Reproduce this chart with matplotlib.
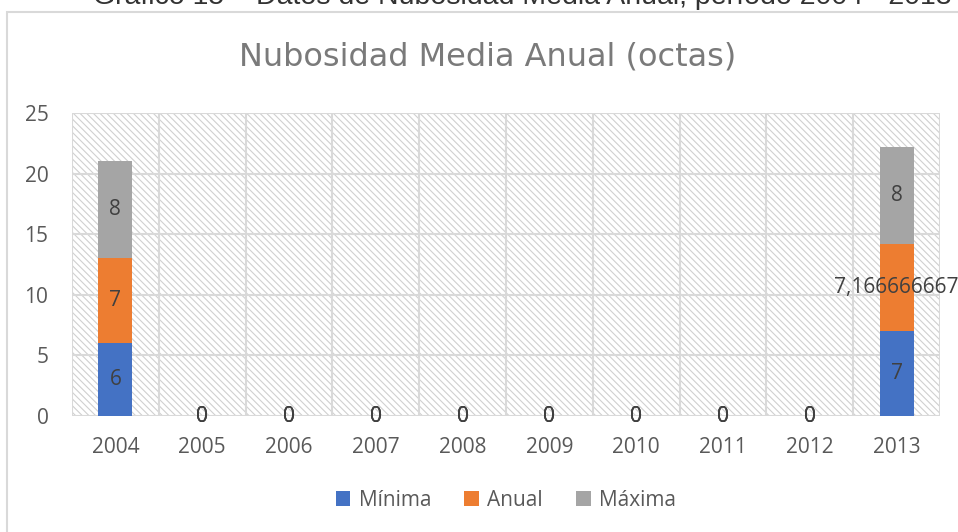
import matplotlib.pyplot as plt
from matplotlib.patches import Rectangle

years = ['2004', '2005', '2006', '2007', '2008', '2009', '2010', '2011', '2012', '2013']
minima = [6, 0, 0, 0, 0, 0, 0, 0, 0, 7]
anual = [7, 0, 0, 0, 0, 0, 0, 0, 0, 7.166666667]
maxima = [8, 0, 0, 0, 0, 0, 0, 0, 0, 8]

colors = ['#4472c4', '#ed7d31', '#a5a5a5']
grid_c = '#d9d9d9'
txt_c = '#595959'

plt.rcParams['hatch.linewidth'] = 0.8
plt.rcParams['font.family'] = ['Open Sans', 'DejaVu Sans']

fig = plt.figure(figsize=(9.58, 5.32), dpi=100)
ax = fig.add_axes([72 / 958, 1 - 416 / 532, 868 / 958, 303 / 532])

# chart frame (cut off at right/bottom)
fig.patches.append(Rectangle((7 / 958, -0.05), 1.0, 1 - 12 / 532 + 0.05, transform=fig.transFigure,
                             fill=False, edgecolor=grid_c, lw=1.5))
fig.text(522 / 958, 1 - 4.5 / 532, 'Gráfico 15 – Datos de Nubosidad Media Anual, período 2004 - 2013',
         ha='center', va='baseline', fontsize=20.5, color='#333333', family='Liberation Sans')

x = list(range(len(years)))
ax.axvspan(-0.5, 9.5, facecolor='white', edgecolor='#d0d0d0', hatch='\\\\\\\\\\', lw=0, zorder=0)

b1 = ax.bar(x, minima, width=0.39, color=colors[0], label='Mínima', zorder=3)
b2 = ax.bar(x, anual, width=0.39, bottom=minima, color=colors[1], label='Anual', zorder=3)
bot = [a + b for a, b in zip(minima, anual)]
b3 = ax.bar(x, maxima, width=0.39, bottom=bot, color=colors[2], label='Máxima', zorder=3)


def fmt(v):
    return f'{v:.10g}'.replace('.', ',')


for bars, vals in [(b1, minima), (b2, anual), (b3, maxima)]:
    ax.bar_label(bars, labels=[fmt(v) for v in vals], label_type='center',
                 fontsize=15, color='#404040', zorder=5)

ax.set_xlim(-0.5, 9.5)
ax.set_ylim(0, 25)
ax.set_yticks(range(0, 26, 5))
ax.set_xticks(x)
ax.set_xticklabels(years)
for b in [i + 0.5 for i in range(-1, 10)]:
    ax.axvline(b, color=grid_c, lw=1.5, zorder=1)
for yv in range(5, 26, 5):
    ax.axhline(yv, color=grid_c, lw=1.5, zorder=1)
for s in ax.spines.values():
    s.set_visible(False)
ax.axhline(0, color=grid_c, lw=1.5, zorder=2)
ax.tick_params(length=0, labelsize=15, labelcolor=txt_c)
ax.tick_params(axis='x', pad=15)
ax.tick_params(axis='y', pad=17)

fig.text(488 / 958, 1 - 65 / 532, 'Nubosidad Media Anual (octas)', ha='center', va='baseline',
         fontsize=23, color='#7a7a7a', family='DejaVu Sans')

ax.legend(loc='center', bbox_to_anchor=(0.5, -(500 - 416) / 303), ncol=3, frameon=False,
          fontsize=15, labelcolor=txt_c, handlelength=0.7, handleheight=0.7, handletextpad=0.4,
          columnspacing=1.6)

fig.savefig('out.png', dpi=100)
